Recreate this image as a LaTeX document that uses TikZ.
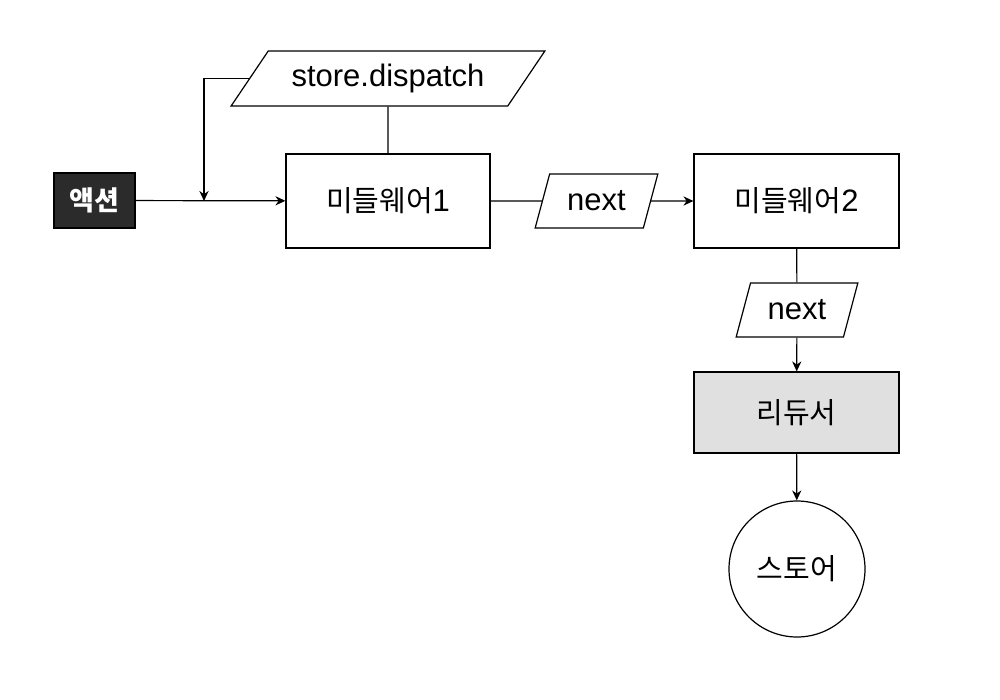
\documentclass[tikz,border=0pt]{standalone}
\usepackage{fontspec}
\setmainfont{Liberation Sans}
\newfontfamily\cjk{Noto Sans CJK KR}
\usetikzlibrary{shapes.geometric,arrows.meta}
\definecolor{actfill}{HTML}{2B2B2B}
\definecolor{redfill}{HTML}{E0E0E0}
\tikzset{
  ln/.style={draw=black, line width=0.6pt},
  arr/.style={ln, -{Stealth[length=5pt,width=4.6pt]}},
  box/.style={draw=black, line width=0.6pt, rectangle, inner sep=0pt, font=\fontsize{14.5}{16}\selectfont},
  para/.style={draw=black, line width=0.6pt, trapezium, trapezium stretches=true, inner sep=0pt, font=\fontsize{15.5}{17}\selectfont},
}
\begin{document}
\begin{tikzpicture}[x=0.5pt,y=-0.5pt]
\path[use as bounding box, fill=white] (0,0) rectangle (1000,700);
\node[box, fill=actfill, text=white, minimum width=40.5pt, minimum height=27.5pt, font=\cjk\bfseries\fontsize{13.5}{15}\selectfont] (act) at (94.5,200.5) {액션};
\node[box, minimum width=102pt, minimum height=47pt] (m1) at (388,201) {{\cjk 미들웨어}\fontsize{15.5}{17}\selectfont 1};
\node[box, minimum width=102.5pt, minimum height=47pt] (m2) at (796.5,201) {{\cjk 미들웨어}\fontsize{15.5}{17}\selectfont 2};
\node[box, fill=redfill, minimum width=102.5pt, minimum height=40.5pt] (red) at (796.5,412.5) {\cjk 리듀서};
\node[box, circle, minimum size=68pt] (store) at (797,569) {\cjk 스토어};
\node[para, trapezium left angle=44, trapezium right angle=136, minimum width=157pt, minimum height=27.5pt] (sd) at (388,78.5) {store.dispatch};
\node[para, trapezium left angle=66, trapezium right angle=114, minimum width=61.5pt, minimum height=27pt] (n1) at (596.5,201) {next};
\node[para, trapezium left angle=66, trapezium right angle=114, minimum width=61pt, minimum height=27pt] (n2) at (797,310) {next};
\coordinate (j) at (204,201);
\draw[arr] (act) -- (m1);
\draw[arr] (sd.left side) -| (j);
\draw[ln] (sd) -- (m1);
\draw[ln] (m1) -- (n1);
\draw[arr] (n1) -- (m2);
\draw[ln] (m2) -- (n2);
\draw[arr] (n2) -- (red);
\draw[arr] (red) -- (store);
\end{tikzpicture}
\end{document}
